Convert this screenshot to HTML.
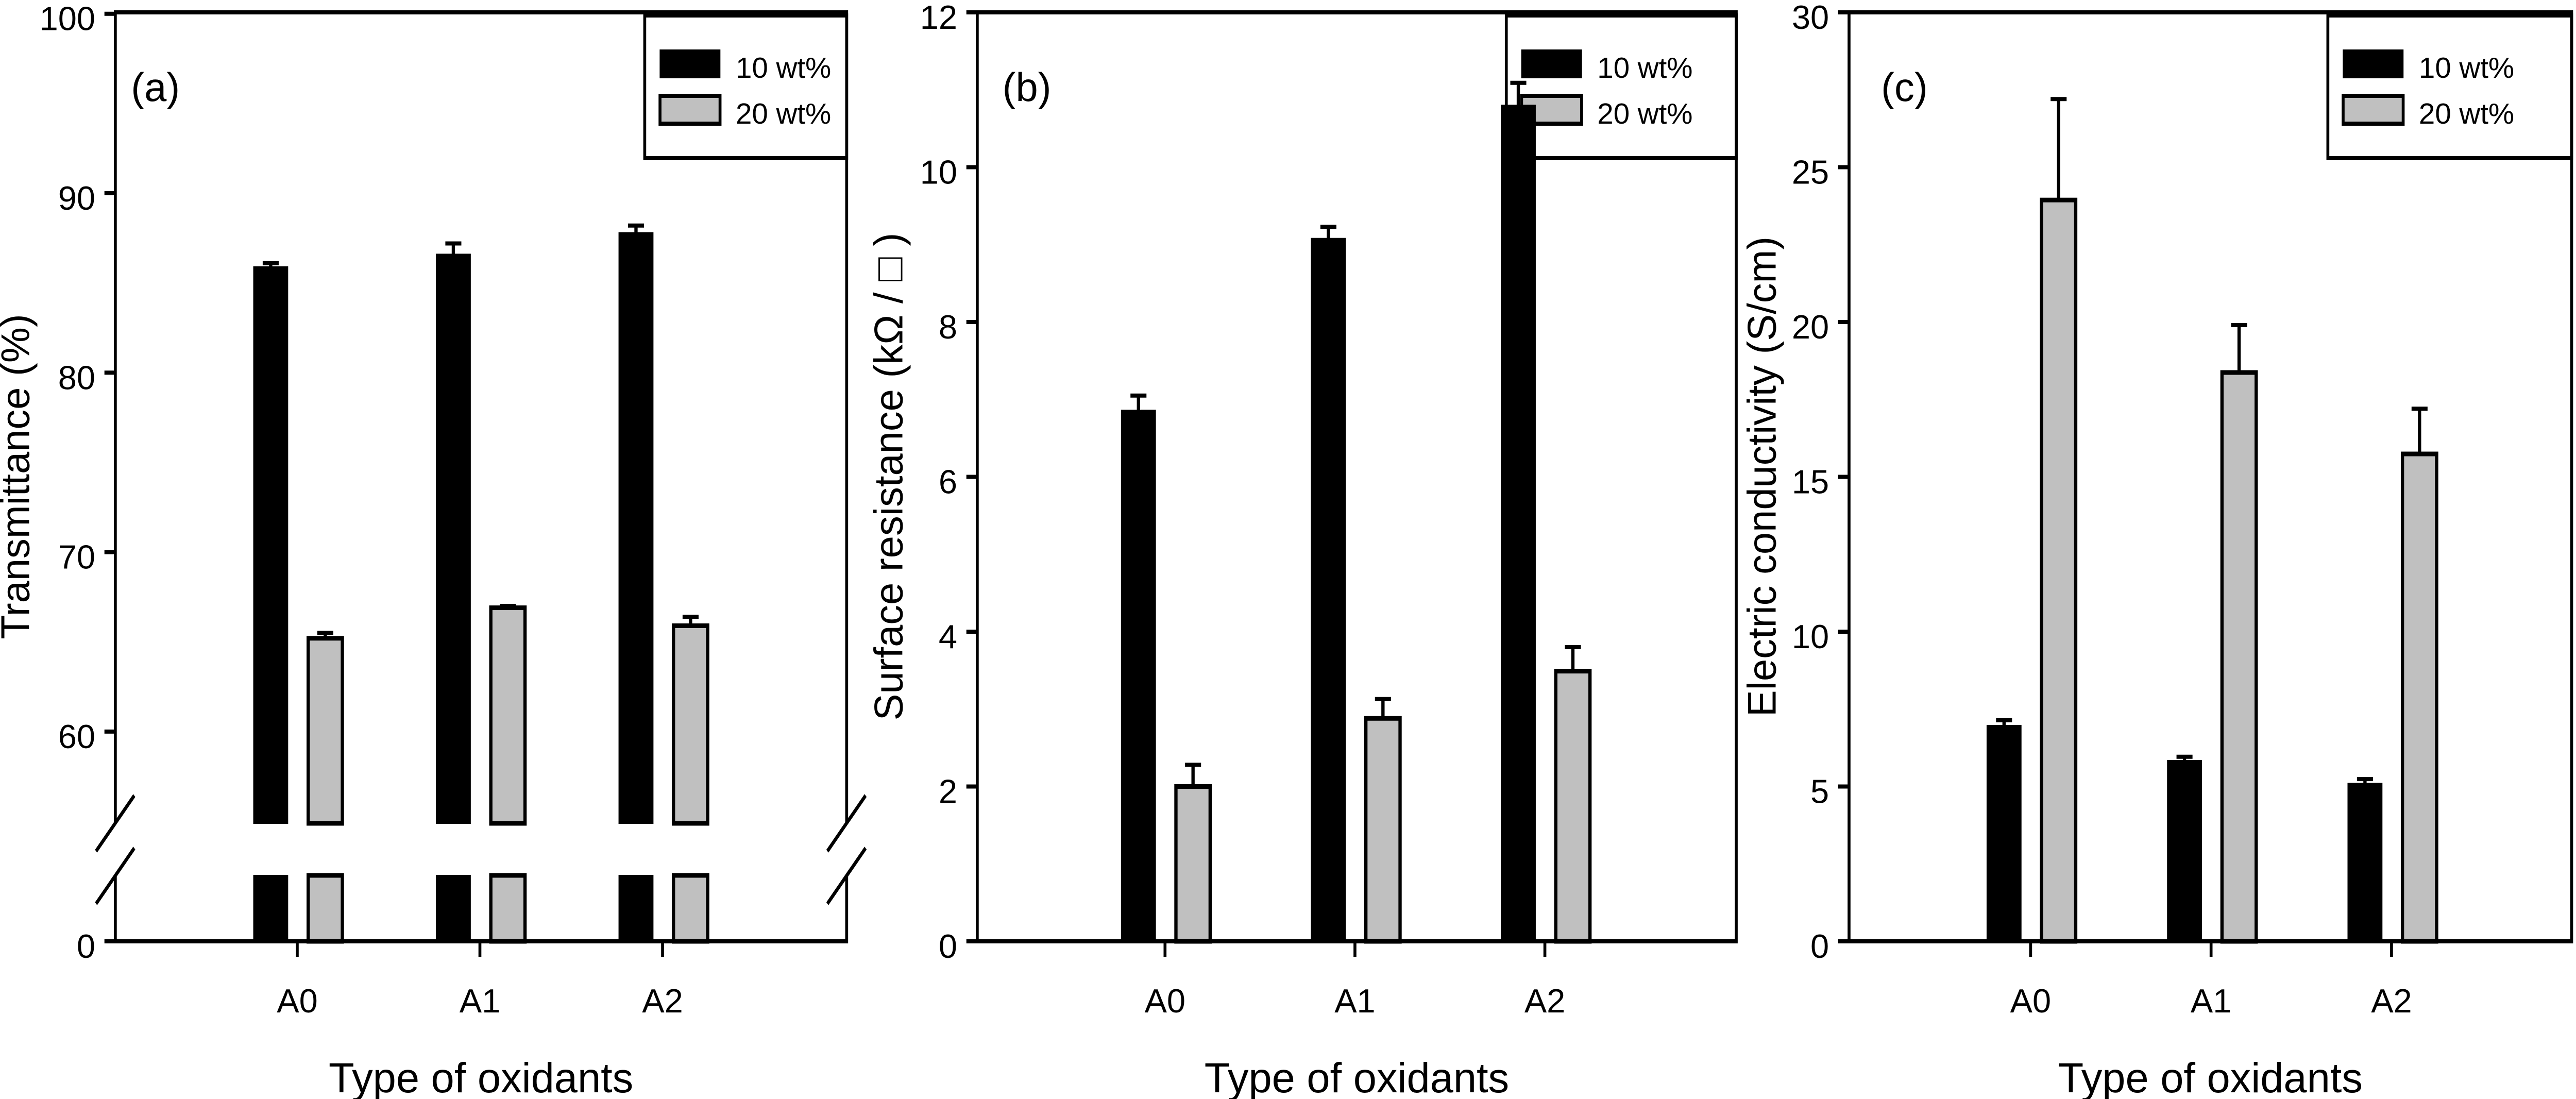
<!DOCTYPE html>
<html><head><meta charset="utf-8"><style>
html,body{margin:0;padding:0;background:#fff;width:100%;height:100%;overflow:hidden;}
svg{display:block;width:100vw;height:100vh;font-family:"Liberation Sans","DejaVu Sans",sans-serif;}
</style></head><body>
<svg id="fig" viewBox="0 0 7080 2133" preserveAspectRatio="none" xmlns="http://www.w3.org/2000/svg"></svg>
<script>
const categories = ["A0","A1","A2"];
const seriesNames = ["10 wt%","20 wt%"];
// panel (a) transmittance
const transA10 = [85.9, 86.6, 87.8];
const transA10Err = [0.2, 0.6, 0.4];
const transA20 = [65.2, 66.9, 65.9];
const transA20Err = [0.3, 0.1, 0.5];
const ticksA = [0, 60, 70, 80, 90, 100];
// panel (b) surface resistance
const resB10 = [6.86, 9.08, 10.8];
const resB10Err = [0.19, 0.15, 0.29];
const resB20 = [2.0, 2.88, 3.49];
const resB20Err = [0.28, 0.25, 0.31];
const ticksB = [0, 2, 4, 6, 8, 10, 12];
// panel (c) conductivity
const condC10 = [6.97, 5.84, 5.1];
const condC10Err = [0.17, 0.12, 0.14];
const condC20 = [23.94, 18.37, 15.74];
const condC20Err = [3.26, 1.53, 1.46];
const ticksC = [0, 5, 10, 15, 20, 25, 30];

const NS = "http://www.w3.org/2000/svg";
const svg = document.getElementById('fig');
const vw = window.innerWidth || 7080, vh = window.innerHeight || 2133;
const K = (vh/2133)/(vw/7080) || 1;
const iK = 1/K;
function mk(tag, attrs, parent){
  const e = document.createElementNS(NS, tag);
  for (const k in attrs) e.setAttribute(k, attrs[k]);
  (parent||svg).appendChild(e);
  return e;
}
function txt(x, y, s, size, anchor, parent, rot){
  const tf = `translate(${x},${y}) scale(1,${iK})` + (rot ? ' rotate(-90)' : '');
  const t = mk('text', {x:0, y:0, 'font-size':size, 'text-anchor':anchor, transform:tf}, parent);
  t.textContent = s;
  return t;
}
const Y0 = 1827, YT = 24, SW = 8;
const FT = 92, FX = 115, FY = 110, FL = 110, FG = 80;

function panel(cfg){
  const g = mk('g', {});
  
  
  const L = cfg.left, R = cfg.right;
  const xOf = i => cfg.x0 + i*cfg.dx;
  // legend first (bars draw over it)
  const lg = mk('g', {}, g);
  
  
  const lx = cfg.legX;
  mk('rect', {x:lx, y:30, width:R-lx, height:277, fill:'#fff', stroke:'#000', 'stroke-width':SW}, lg);
  seriesNames.forEach((n, k) => {
    const sy = 97 + k*89;
    const sw = mk('rect', {x:lx+42, y:sy, width:165, height:54, fill:k?'#c0c0c0':'#000', stroke:'#000', 'stroke-width':k?8:2}, lg);
    
    
    const t = txt(lx+250, sy+54, n, FG, 'start', lg);
    
    
  });
  const series = [[cfg.s10, cfg.e10, '#000', -73], [cfg.s20, cfg.e20, '#c0c0c0', 77]];
  series.forEach((s, si) => {
    s[0].forEach((v, i) => {
      const cx = xOf(i) + s[3];
      const w = 94;
      const top = cfg.y(v);
      const errTop = cfg.y(v + s[1][i]);
      const eb = mk('line', {x1:cx, x2:cx, y1:top, y2:errTop, stroke:'#000', 'stroke-width':9}, g);
      
      
      const ec = mk('line', {x1:cx-22, x2:cx+22, y1:errTop, y2:errTop, stroke:'#000', 'stroke-width':8}, g);
      
      
      const segs = cfg.broken ? [[top, 1598], [1699, Y0]] : [[top, Y0]];
      segs.forEach(sg => {
        const r = mk('rect', {x:cx-w/2, y:sg[0], width:w, height:sg[1]-sg[0], fill:s[2], stroke:'#000', 'stroke-width': si?9:2}, g);
        
        
      });
    });
  });
  if (cfg.broken){
    mk('path', {d:`M${L},1598 L${L},${YT} L${R},${YT} L${R},1598 M${L},1699 L${L},${Y0} L${R},${Y0} L${R},1699`, fill:'none', stroke:'#000', 'stroke-width':SW}, g);
    [L, R].forEach(x => {
      mk('line', {x1:x-53, y1:1652, x2:x+52, y2:1544, stroke:'#000', 'stroke-width':SW}, g);
      mk('line', {x1:x-53, y1:1754, x2:x+52, y2:1646, stroke:'#000', 'stroke-width':SW}, g);
    });
  } else {
    const fr = mk('rect', {x:L, y:YT, width:R-L, height:Y0-YT, fill:'none', stroke:'#000', 'stroke-width':SW}, g);
    
    
  }
  cfg.ticks.forEach(t => {
    const y = cfg.y(t);
    mk('line', {x1:L-30, x2:L, y1:y, y2:y, stroke:'#000', 'stroke-width':SW}, g);
    const tx = txt(L-55, y+32, String(t), FT, 'end', g);
    
    
  });
  categories.forEach((c, i) => {
    const x = xOf(i);
    mk('line', {x1:x, x2:x, y1:Y0, y2:Y0+30, stroke:'#000', 'stroke-width':SW}, g);
    const tx = txt(x, 1965, c, FT, 'middle', g);
    
    
  });
  const xt = txt((L+R)/2, 2120, cfg.xTitle, FX, 'middle', g);
  
  
  const yt = txt(cfg.ylx, 925, cfg.yTitle, FY, 'middle', g, true);
  
  
  const pl = txt(cfg.labelX, 196, cfg.label, FL, 'start', g);
  
  
}

panel({name:'panel-a-transmittance', left:317, right:2327, x0:817, dx:502, broken:true,
  y: v => v >= 55 ? 375 + (90 - v)*34.83 : Y0,
  s10:transA10, e10:transA10Err, s20:transA20, e20:transA20Err, ticks:ticksA,
  xTitle:'Type of oxidants', yTitle:'Transmittance (%)', ylx:80, label:'(a)', labelX:360, legX:1772});
panel({name:'panel-b-surface-resistance', left:2686, right:4772, x0:3202, dx:522, broken:false,
  y: v => Y0 - v*150.25,
  s10:resB10, e10:resB10Err, s20:resB20, e20:resB20Err, ticks:ticksB,
  xTitle:'Type of  oxidants', yTitle:'Surface resistance (kΩ  / □ )', ylx:2480, label:'(b)', labelX:2755, legX:4140});
panel({name:'panel-c-conductivity', left:5082, right:7068, x0:5581, dx:496, broken:false,
  y: v => Y0 - v*60.1,
  s10:condC10, e10:condC10Err, s20:condC20, e20:condC20Err, ticks:ticksC,
  xTitle:'Type of oxidants', yTitle:'Electric conductivity (S/cm)', ylx:4880, label:'(c)', labelX:5170, legX:6398});
</script>
</body></html>
